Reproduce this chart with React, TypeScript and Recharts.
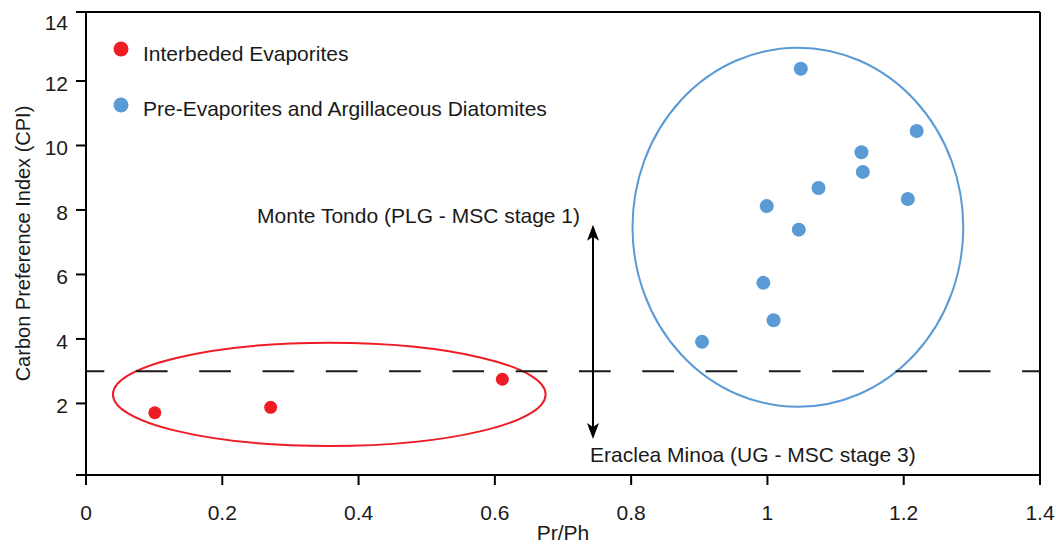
import React from "react";
import {
  ScatterChart,
  Scatter,
  XAxis,
  YAxis,
  ReferenceLine,
  ReferenceArea,
  ReferenceDot,
  Legend,
  Label,
} from "recharts";

const FONT = '"Liberation Sans", Arial, sans-serif';
const RED = "#ee1c25";
const BLUE = "#5b9bd5";

// axis setup
const xTicks = [0, 0.2, 0.4, 0.6, 0.8, 1, 1.2, 1.4];
const yTicks = [2, 4, 6, 8, 10, 12, 14];
const Y_MIN = -0.22;
const Y_MAX = 14.14;

// Interbeded Evaporites
const evapX = [0.101, 0.271, 0.611];
const evapY = [1.71, 1.88, 2.75];

// Pre-Evaporites and Argillaceous Diatomites
const diatX = [1.049, 1.219, 1.138, 1.14, 1.075, 1.206, 0.999, 1.046, 0.994, 1.009, 0.904];
const diatY = [12.38, 10.45, 9.79, 9.18, 8.68, 8.34, 8.12, 7.39, 5.74, 4.58, 3.91];

const cpiLimit = 3;

const evapData = evapX.map((x, i) => ({ x, y: evapY[i] }));
const diatData = diatX.map((x, i) => ({ x, y: diatY[i] }));

// group outlines (centre / radius in data units)
const evapRing = { cx: 0.357, cy: 2.28, rx: 0.3175, ry: 1.6 };
const diatRing = { cx: 1.0447, cy: 7.464, rx: 0.2427, ry: 5.57 };

const Dot = (color: string, r: number) => (p: any) => (
  <circle cx={p.cx} cy={p.cy} r={r} fill={color} />
);

const Ellipse = (color: string) => (p: any) => (
  <ellipse
    cx={p.x + p.width / 2}
    cy={p.y + p.height / 2}
    rx={p.width / 2}
    ry={p.height / 2}
    fill="none"
    stroke={color}
    strokeWidth={2}
  />
);

const Arrow = (p: any) => {
  const x = p.x1;
  const bottom = Math.max(p.y1, p.y2);
  const top = Math.min(p.y1, p.y2);
  return (
    <g>
      <line x1={x} y1={top + 10} x2={x} y2={bottom - 10} stroke="#000" strokeWidth={2} />
      <polygon points={`${x},${top} ${x - 6},${top + 16} ${x},${top + 12} ${x + 6},${top + 16}`} fill="#000" />
      <polygon
        points={`${x},${bottom} ${x - 6},${bottom - 16} ${x},${bottom - 12} ${x + 6},${bottom - 16}`}
        fill="#000"
      />
    </g>
  );
};

const Note = (text: string, anchor: "start" | "end") => (p: any) => (
  <text x={p.cx} y={p.cy} textAnchor={anchor} fontSize={21} fontFamily={FONT} fill="#1a1a1a">
    {text}
  </text>
);

const YTick = (p: any) => {
  const v = p.payload.value;
  if (v === Y_MIN) return null;
  const extra = v === Y_MAX ? 8 : 0;
  return (
    <text x={p.x} y={p.y} dy={10 + extra} textAnchor="end" fontSize={21} fontFamily={FONT} fill="#1a1a1a">
      {v === Y_MAX ? 14 : v}
    </text>
  );
};

const renderLegend = (props: any) => {
  const items = props.payload || [];
  return (
    <svg width={600} height={130} style={{ display: "block" }}>
      {items.map((it: any, i: number) => (
        <g key={it.value}>
          <circle cx={121} cy={49 + i * 56} r={7.5} fill={it.color} />
          <text x={143} y={61 + i * 55} fontSize={21} fontFamily={FONT} fill="#1a1a1a">
            {it.value}
          </text>
        </g>
      ))}
    </svg>
  );
};

export default function App() {
  return (
    <div style={{ width: 1056, height: 546, background: "#fff" }}>
      <style>{"body{margin:0}"}</style>
      <ScatterChart width={1056} height={546} margin={{ top: 12, right: 16, bottom: 0, left: 0 }}>
        <XAxis
          type="number"
          dataKey="x"
          domain={[0, 1.4]}
          ticks={xTicks}
          interval={0}
          height={71}
          axisLine={{ stroke: "#000", strokeWidth: 2 }}
          tickLine={{ stroke: "#000", strokeWidth: 2 }}
          tickSize={10}
          tickMargin={20}
          tick={{ fontSize: 21, fontFamily: FONT, fill: "#1a1a1a" }}
        >
          <Label value="Pr/Ph" position="insideBottom" offset={6} fontSize={21} fontFamily={FONT} fill="#1a1a1a" />
        </XAxis>
        <YAxis
          type="number"
          dataKey="y"
          domain={[Y_MIN, Y_MAX]}
          allowDataOverflow
          ticks={[Y_MIN, ...yTicks.slice(0, -1), Y_MAX]}
          interval={0}
          width={86}
          axisLine={{ stroke: "#000", strokeWidth: 2 }}
          tickLine={{ stroke: "#000", strokeWidth: 2 }}
          tickSize={10}
          tickMargin={8}
          tick={<YTick />}
        >
          <Label
            value="Carbon Preference Index (CPI)"
            angle={-90}
            position="insideLeft"
            offset={23}
            fontSize={20}
            fontFamily={FONT}
            fill="#1a1a1a"
            style={{ textAnchor: "middle" }}
          />
        </YAxis>
        <ReferenceLine y={Y_MAX} stroke="#000" strokeWidth={2} />
        <ReferenceLine x={1.4} stroke="#000" strokeWidth={2} />
        <ReferenceLine
          y={cpiLimit}
          stroke="#1a1a1a"
          strokeWidth={2}
          strokeDasharray="31.7 31.6"
          strokeDashoffset={13.4}
        />
        <ReferenceArea
          x1={evapRing.cx - evapRing.rx}
          x2={evapRing.cx + evapRing.rx}
          y1={evapRing.cy - evapRing.ry}
          y2={evapRing.cy + evapRing.ry}
          ifOverflow="visible"
          shape={Ellipse(RED)}
        />
        <ReferenceArea
          x1={diatRing.cx - diatRing.rx}
          x2={diatRing.cx + diatRing.rx}
          y1={diatRing.cy - diatRing.ry}
          y2={diatRing.cy + diatRing.ry}
          ifOverflow="visible"
          shape={Ellipse(BLUE)}
        />
        <ReferenceLine
          segment={[
            { x: 0.744, y: 0.9 },
            { x: 0.744, y: 7.54 },
          ]}
          ifOverflow="visible"
          shape={Arrow}
        />
        <ReferenceDot x={0.725} y={7.6} r={0} ifOverflow="visible" shape={Note("Monte Tondo (PLG - MSC stage 1)", "end")} />
        <ReferenceDot x={0.7397} y={0.18} r={0} ifOverflow="visible" shape={Note("Eraclea Minoa (UG - MSC stage 3)", "start")} />
        <Scatter name="Interbeded Evaporites" data={evapData} fill={RED} shape={Dot(RED, 6.5)} isAnimationActive={false} />
        <Scatter
          name="Pre-Evaporites and Argillaceous Diatomites"
          data={diatData}
          fill={BLUE}
          shape={Dot(BLUE, 7)}
          isAnimationActive={false}
        />
        <Legend
          layout="horizontal"
          verticalAlign="middle"
          align="center"
          content={renderLegend}
          wrapperStyle={{ top: 0, left: 0, width: 600, height: 130 }}
        />
      </ScatterChart>
    </div>
  );
}
